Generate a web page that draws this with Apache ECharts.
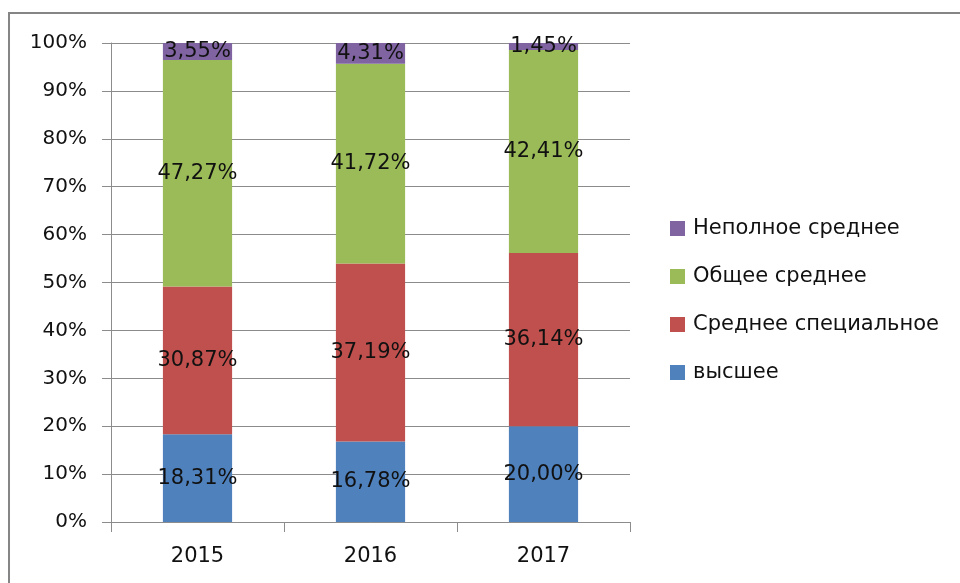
<!DOCTYPE html>
<html>
<head>
<meta charset="utf-8">
<script src="https://cdn.jsdelivr.net/npm/echarts@6/dist/echarts.min.js"></script>
<style>
  html, body { margin: 0; padding: 0; background: #fff; }
  #main { width: 960px; height: 583px; }
</style>
</head>
<body>
<div id="main"></div>
<script>
// годы
const years = ['2015', '2016', '2017'];
// доли по уровню образования, %
const vysshee = [18.31, 16.78, 20.00];
const srednSpec = [30.87, 37.19, 36.14];
const obscheeSredn = [47.27, 41.72, 42.41];
const nepolnoe = [3.55, 4.31, 1.45];
const yTicks = [0, 10, 20, 30, 40, 50, 60, 70, 80, 90, 100];

const font = 'DejaVu Sans';
const gridColor = '#8c8c8c';
const textColor = '#111';

function fmt(p) {
  return p.value.toFixed(2).replace('.', ',') + '%';
}

function makeSeries(name, data, color) {
  return {
    name: name,
    type: 'bar',
    stack: 'total',
    barWidth: '40%',
    data: data,
    itemStyle: { color: color },
    label: {
      show: true,
      position: 'inside',
      formatter: fmt,
      color: textColor,
      fontFamily: font,
      fontSize: 21,
    },
  };
}

const chart = echarts.init(document.getElementById('main'));
chart.setOption({
  animation: false,
  graphic: [{
    type: 'rect',
    shape: { x: 9, y: 13, width: 1200, height: 1000 },
    style: { fill: 'none', stroke: '#858585', lineWidth: 2 },
  }],
  grid: { left: 111, right: 330, top: 43, bottom: 61 },
  legend: {
    orient: 'vertical',
    left: 670,
    top: 218,
    padding: 0,
    icon: 'rect',
    itemWidth: 15,
    itemHeight: 15,
    itemGap: 27,
    data: ['Неполное среднее', 'Общее среднее', 'Среднее специальное', 'высшее'],
    textStyle: { fontFamily: font, fontSize: 21, color: textColor, lineHeight: 21, padding: [0, 0, 0, 3] },
  },
  xAxis: {
    type: 'category',
    data: years,
    axisLine: { lineStyle: { color: gridColor, width: 1 } },
    axisTick: { show: true, length: 10, lineStyle: { color: gridColor } },
    axisLabel: { color: textColor, fontFamily: font, fontSize: 21, margin: 24 },
  },
  yAxis: {
    type: 'value',
    min: yTicks[0],
    max: yTicks[yTicks.length - 1],
    interval: 10,
    axisLine: { show: true, lineStyle: { color: gridColor, width: 1 } },
    axisTick: { show: true, length: 9, lineStyle: { color: gridColor } },
    splitLine: { lineStyle: { color: gridColor, width: 1 } },
    axisLabel: { color: textColor, fontFamily: font, fontSize: 20, margin: 24, formatter: '{value}%' },
  },
  series: [
    makeSeries('высшее', vysshee, '#4f81bd'),
    makeSeries('Среднее специальное', srednSpec, '#c0504d'),
    makeSeries('Общее среднее', obscheeSredn, '#9bbb59'),
    makeSeries('Неполное среднее', nepolnoe, '#8064a2'),
  ],
});
</script>
</body>
</html>
